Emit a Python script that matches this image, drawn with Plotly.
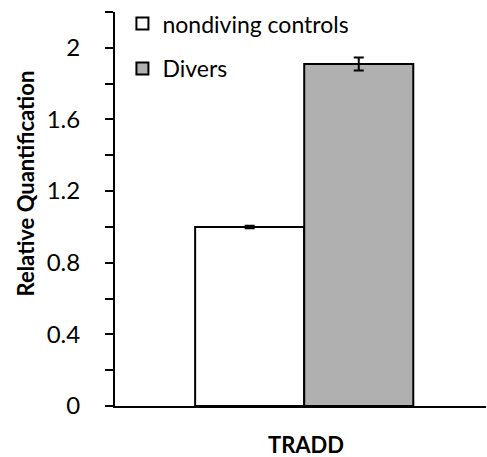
import plotly.graph_objects as go

categories = ["TRADD"]
series_names = ["nondiving controls", "Divers"]
values_controls = [1.00]
errors_controls = [0.007]
values_divers = [1.91]
errors_divers = [0.036]
fills = ["#ffffff", "#b0b0b0"]

y_ticks = [0, 0.2, 0.4, 0.6, 0.8, 1.0, 1.2, 1.4, 1.6, 1.8, 2.0, 2.2]
y_ticklabels = ["0", "", "0.4", "", "0.8", "", "1.2", "", "1.6", "", "2", ""]

FONT = "Lato"

fig = go.Figure()
for i, (name, vals, errs) in enumerate([
    (series_names[0], values_controls, errors_controls),
    (series_names[1], values_divers, errors_divers),
]):
    fig.add_trace(go.Bar(
        x=categories, y=vals, name=name, legendgroup=name,
        marker=dict(color=fills[i], line=dict(color="black", width=2)),
        error_y=dict(type="data", array=errs, color="black", thickness=2, width=5),
    ))

fig.update_layout(
    width=487, height=457,
    margin=dict(l=115, r=1, t=12, b=51),
    paper_bgcolor="white", plot_bgcolor="white",
    barmode="group", bargap=0.412, bargroupgap=0,
    font=dict(family=FONT, color="black"),
    showlegend=True,
    legend=dict(x=0.02, y=1.025, xanchor="left", yanchor="top",
                font=dict(size=23, family=FONT, color="black"),
                bgcolor="rgba(0,0,0,0)", tracegroupgap=12, traceorder="grouped"),
    xaxis=dict(showline=True, linecolor="black", linewidth=2, ticks="",
               showticklabels=False, range=[-0.51, 0.49], showgrid=False,
               zeroline=False),
    yaxis=dict(range=[0, 2.2], tickvals=y_ticks, ticktext=y_ticklabels,
               ticks="outside", ticklen=8, tickwidth=2, tickcolor="black",
               showline=True, linecolor="black", linewidth=2, showgrid=False,
               zeroline=False, tickfont=dict(size=24, family=FONT),
               ticklabelstandoff=20),
    annotations=[
        dict(text="<b>Relative Quantification</b>", xref="paper", yref="paper",
             x=-(115 - 25) / 371, y=(406 - 183.5) / 394, xanchor="center",
             yanchor="middle", textangle=-90, showarrow=False,
             font=dict(size=22, family=FONT, color="black")),
        dict(text="<b>TRADD</b>", xref="paper", yref="paper",
             x=(305.5 - 115) / 371, y=-(457 - 406) / 394, xanchor="center",
             yanchor="bottom", showarrow=False, borderpad=0, yshift=-2,
             font=dict(size=22, family=FONT, color="black")),
    ],
)

fig.write_html("out.html")
